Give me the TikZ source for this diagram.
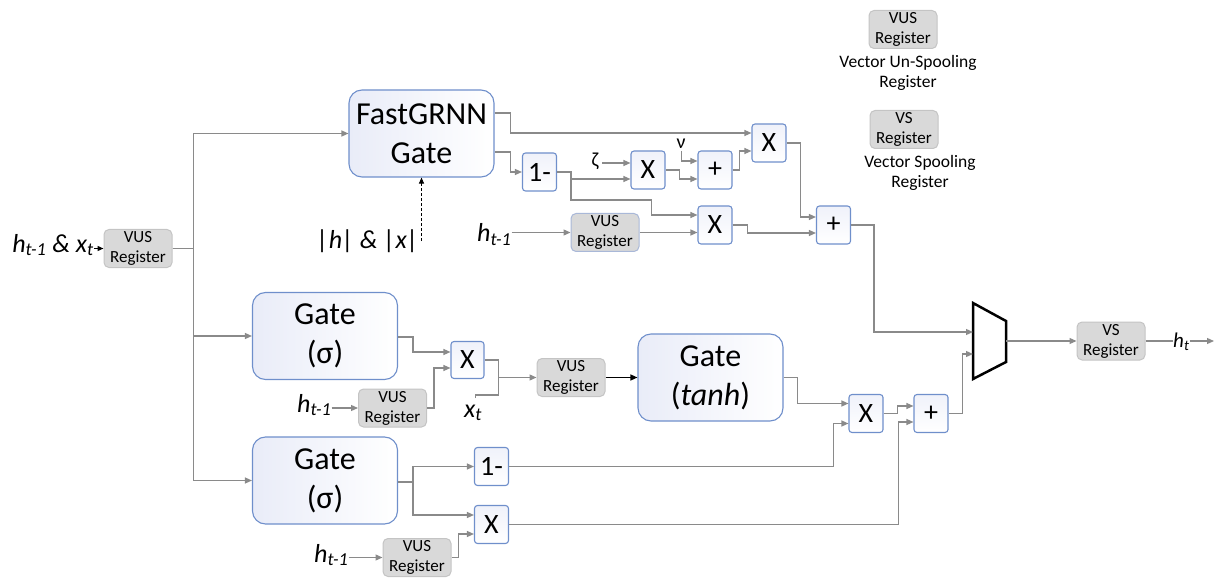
\documentclass[tikz,border=0pt]{standalone}
\usepackage{fontspec}
\setmainfont{Carlito}
\usetikzlibrary{arrows.meta,calc}

\definecolor{wire}{HTML}{8A8A8A}
\definecolor{boxblue}{HTML}{6F8FCB}
\definecolor{boxtint}{HTML}{E9ECF8}
\definecolor{regfill}{HTML}{D9D9D9}
\definecolor{regline}{HTML}{C4C4C4}
\definecolor{regblue}{HTML}{A9B8D8}

\tikzset{
  wireline/.style={draw=wire, line width=1.2pt},
  conn/.style={wireline, -{Triangle[length=7pt,width=6pt]}},
  blkarrow/.style={draw=black, line width=1.2pt, -{Triangle[length=7pt,width=6pt]}},
  gatebox/.style={draw=boxblue, line width=1.1pt, rounded corners=13pt,
    left color=boxtint, right color=white, minimum width=145pt, minimum height=87pt,
    inner sep=0pt, align=center, font=\fontsize{32}{39}\selectfont},
  opbox/.style={draw=boxblue, line width=1.1pt, rounded corners=3pt,
    top color=boxtint!70, bottom color=white, minimum width=34pt, minimum height=38pt,
    inner sep=0pt, font=\fontsize{28}{32}\selectfont},
  regbox/.style={draw=regline, fill=regfill, line width=1pt, rounded corners=5pt,
    minimum width=68pt, minimum height=38pt, inner sep=0pt, align=center,
    font=\fontsize{17}{20}\selectfont},
  ilabel/.style={inner sep=0pt, font=\fontsize{26}{30}\selectfont\itshape},
  greek/.style={inner sep=0pt, font=\fontsize{20}{24}\selectfont},
  legendtxt/.style={inner sep=0pt, align=center, font=\fontsize{17.5}{20}\selectfont},
}

\begin{document}
\begin{tikzpicture}[x=1pt, y=-1pt]
\useasboundingbox (0,0) rectangle (1221,580);

% ---- input stage ----
\node[regbox] (vin) at (138,248.5) {VUS\\Register};
\node[ilabel, anchor=base east] (inp) at (94,252) {h\textsubscript{t-1} \& x\textsubscript{t}};
\draw[blkarrow, -{Triangle[length=6pt,width=5pt]}] (vin.west -| inp.east) -- (vin.west);

% ---- gates ----
\node[gatebox] (fg) at (421.5,133.5) {FastGRNN\\Gate};
\node[gatebox] (g1) at (325,336) {Gate\\(σ)};
\node[gatebox] (g2) at (325,480.5) {Gate\\(σ)};
\node[gatebox] (gt) at (710.5,377.5) {Gate\\(\textit{tanh})};

% ---- fan-out bus ----
\draw[conn] (vin.east) -- ++(21,0) |- (fg.west);
\draw[conn] (vin.east) -- ++(21,0) |- (g1.west);
\draw[conn] (vin.east) -- ++(21,0) |- (g2.west);

% ---- FastGRNN branch ----
\node[ilabel, anchor=base east] (hx) at (419,248) {|h| \& |x|};
\draw[black, dashed, dash pattern=on 3pt off 2pt, line width=1pt,
  -{Triangle[length=6pt,width=5pt]}] ($(fg.south)+(0,63.5)$) -- (fg.south);

\node[opbox] (om1) at (539.5,172) {1-};
\node[opbox] (ox1) at (648,170) {X};
\node[opbox] (op1) at (715,170) {+};
\node[opbox] (ox2) at (769,143) {X};
\node[opbox] (ox3) at (715,225) {X};
\node[opbox] (op2) at (833.5,225) {+};
\node[regbox, draw=regblue] (vr1) at (605,232.5) {VUS\\Register};
\node[ilabel, anchor=base west] (h1) at (477,242) {h\textsubscript{t-1}};
\node[greek] (zeta) at (595,161) {ζ};
\node[greek] (nu) at (681,144) {ν};

\draw[conn] ($(fg.east)+(0,-20.5)$) -- ++(16,0) |- ($(ox2.west)+(0,-10)$);
\draw[conn] ($(fg.east)+(0,18.5)$) -- ++(16,0) |- (om1.west);
\draw[conn] (om1.east) -- ++(14,0) |- ($(ox1.west)+(0,9)$);
\draw[conn] (om1.east) -- ++(14,0) |- ($(ox3.west)+(-46,-25)$) |- ($(ox3.west)+(0,-10)$);
\draw[conn] ($(ox1.west)+(-28,-7)$) -- ($(ox1.west)+(0,-7)$);
\draw[conn] (ox1.east) -- ++(14,0) |- ($(op1.west)+(0,9)$);
\draw[conn] ($(op1.west)+(-16,-19)$) |- ($(op1.west)+(0,-9)$);
\draw[conn] (op1.east) -- ++(7,0) |- ($(ox2.west)+(0,8)$);
\draw[conn] (ox2.east) -- ++(14,0) |- ($(op2.west)+(0,-8)$);
\draw[conn] (vr1.west -| h1.east) -- (vr1.west);
\draw[conn] (vr1.east) -- (vr1.east -| ox3.west);
\draw[conn] (ox3.east) -- ++(15,0) |- ($(op2.west)+(0,8)$);

% ---- sigma / tanh branch ----
\node[opbox, minimum width=33pt, minimum height=37pt] (ox4) at (467.5,360) {X};
\node[regbox] (vr3) at (392.5,408) {VUS\\Register};
\node[regbox] (vr2) at (571,377.5) {VUS\\Register};
\node[ilabel, anchor=base west] (h3) at (297,412) {h\textsubscript{t-1}};
\node[ilabel, anchor=base west] (xt) at (464,417) {x\textsubscript{t}};

\draw[conn] ($(g1.east)+(0,1)$) -- ++(15,0) |- ($(ox4.west)+(0,-8)$);
\draw[conn] (vr3.west -| h3.east) -- (vr3.west);
\draw[conn] (vr3.east) -- ++(7,0) |- ($(ox4.west)+(0,8)$);
\draw[conn] (ox4.east) -- ++(14,0) |- (vr2.west);
\draw[wireline] ($(ox4.east)+(-9,38)$) -- ++(0,-3) -| ($(ox4.east)+(14,17)$);
\draw[blkarrow] (vr2.east) -- (gt.west);

% ---- lower sigma branch ----
\node[opbox] (om2) at (491.5,466.5) {1-};
\node[opbox] (ox6) at (491.5,524.5) {X};
\node[regbox] (vr4) at (417,557.5) {VUS\\Register};
\node[ilabel, anchor=base west] (h4) at (314,562) {h\textsubscript{t-1}};
\node[opbox] (ox5) at (866,413.5) {X};
\node[opbox] (op3) at (931,413.5) {+};

\draw[conn] ($(g2.east)+(0,1.5)$) -- ++(15,0) |- (om2.west);
\draw[conn] ($(g2.east)+(0,1.5)$) -- ++(15,0) |- ($(ox6.west)+(0,-9.5)$);
\draw[conn] (vr4.west -| h4.east) -- (vr4.west);
\draw[conn] (vr4.east) -- ++(7,0) |- ($(ox6.west)+(0,9.5)$);
\draw[conn] (gt.east) -- ++(14,0) |- ($(ox5.west)+(0,-10)$);
\draw[conn] (om2.east) -| ($(ox5.west)+(-15,10)$) -- ($(ox5.west)+(0,10)$);
\draw[conn] (ox6.east) -| ($(op3.west)+(-15,8.5)$) -- ($(op3.west)+(0,8.5)$);
\draw[conn] (ox5.east) -- ++(14,0) |- ($(op3.west)+(0,-7.5)$);

% ---- multiplexer and output ----
\draw[line width=2.5pt, fill=white, line join=miter]
  (973,303) -- (1006,321) -- (1006,362) -- (973,379) -- cycle;
\coordinate (m1) at (973,332);
\coordinate (m2) at (973,354);
\coordinate (mout) at (1006,341);
\node[regbox] (vso) at (1111,341) {VS\\Register};
\node[ilabel, anchor=base west, font=\fontsize{21}{24}\selectfont\itshape] (ht) at (1173,347) {h\textsubscript{t}};
\coordinate (hout) at (1214,341);

\draw[conn] (op2.east) -- ++(23,0) |- (m1);
\draw[conn] (op3.east) -- ++(14,0) |- (m2);
\draw[conn] (mout) -- (vso.west);
\draw[wireline] (vso.east) -- (vso.east -| ht.west);
\draw[conn] (ht.east |- vso.east) -- (hout);

% ---- legend ----
\node[regbox] (lg1) at (903,29.5) {VUS\\Register};
\node[legendtxt] (lt1) at (908,73) {Vector Un-Spooling\\Register};
\node[regbox] (lg2) at (904,129.5) {VS\\Register};
\node[legendtxt] (lt2) at (920,173) {Vector Spooling\\Register};
\end{tikzpicture}
\end{document}
